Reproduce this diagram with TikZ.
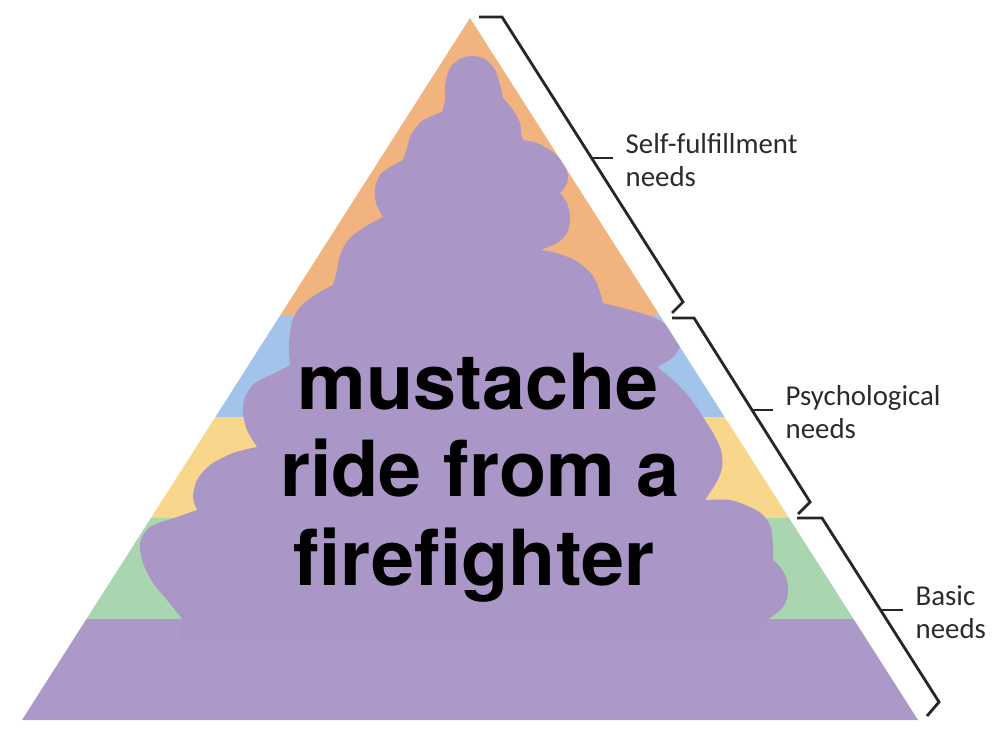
\documentclass[tikz,border=0pt]{standalone}
\usepackage{fontspec}
\newfontfamily\memefont{TeX Gyre Heros}
\newfontfamily\needsfont{Carlito}
\definecolor{orangeband}{HTML}{F2B47F}
\definecolor{blueband}{HTML}{A2C3EA}
\definecolor{yellowband}{HTML}{F8D68B}
\definecolor{greenband}{HTML}{A9D6B1}
\definecolor{purpleband}{HTML}{AC99CA}
\definecolor{cloudpurple}{HTML}{AA97C8}
\definecolor{inkgrey}{HTML}{2B2B2B}
\tikzset{
  brace/.style={draw=black!85, line width=0.8pt},
  needs/.style={anchor=west, align=left, inner sep=0pt, text=inkgrey, font=\needsfont\fontsize{8.2}{9.4}\selectfont},
  meme/.style={anchor=base, inner sep=0pt, text=black, font=\memefont\bfseries\fontsize{22}{25}\selectfont}
}
\begin{document}
\begin{tikzpicture}[x=0.01cm, y=-0.01cm]
    \useasboundingbox (0,0) rectangle (1000,752);
    % Pyramid bands
    \begin{scope}
        \clip (470,18) -- (22,720) -- (918,720) -- cycle;
        \foreach \col/\top/\bot in {orangeband/0/316, blueband/316/417, yellowband/417/518, greenband/518/619, purpleband/619/730}
            \fill[\col] (0,\top) rectangle (1000,\bot);
        % Cloud on top of the bands
        \fill[cloudpurple] (180,640)
            -- plot[smooth] coordinates {(183,620) (167,600) (153,583) (143,563) (140,543) (150,527) (177,517) (197,510)}
            -- plot[smooth] coordinates {(197,510) (193,497) (197,480) (210,465) (233,453) (257,447)}
            -- plot[smooth] coordinates {(257,447) (247,430) (243,413) (245,397) (255,383) (275,373) (290,365)}
            -- plot[smooth] coordinates {(290,365) (289,345) (292,322) (300,307) (315,295) (333,285)}
            -- plot[smooth] coordinates {(333,285) (337,270) (340,255) (348,240) (363,228) (383,217)}
            -- plot[smooth] coordinates {(383,217) (376,203) (375,188) (380,175) (390,167) (403,160)}
            -- plot[smooth] coordinates {(403,160) (407,148) (411,135) (422,121) (442,112)}
            -- plot[smooth] coordinates {(442,112) (445,100) (445,85) (450,68) (460,59) (472,56) (485,59) (495,70) (500,85) (503,98)}
            -- plot[smooth] coordinates {(503,98) (513,110) (520,123) (521,133) (523,140)}
            -- plot[smooth] coordinates {(523,140) (537,143) (553,152) (565,165) (568,178) (565,187) (560,193)}
            -- plot[smooth] coordinates {(560,193) (567,203) (570,218) (567,233) (557,243) (540,250)}
            -- plot[smooth] coordinates {(540,250) (557,253) (578,262) (593,276) (600,292) (603,303)}
            -- plot[smooth] coordinates {(603,303) (630,310) (655,318) (672,330) (680,345) (672,358) (657,367)}
            -- plot[smooth] coordinates {(657,367) (675,382) (690,398) (703,417) (713,433) (721,450) (722,468) (716,483) (705,500)}
            -- plot[smooth] coordinates {(705,500) (730,500) (750,507) (763,515) (771,528) (773,548) (773,560)}
            -- plot[smooth] coordinates {(773,560) (781,568) (787,580) (788,594) (783,607) (770,618) (760,625)}
            -- (760,640) -- cycle;
    \end{scope}
    % Meme text
    \node[meme] (line-1) at (478,410) {mustache};
    \node[meme] (line-2) at (480,497) {ride from a};
    \node[meme] (line-3) at (474,585) {firefighter};
    % Braces
    \draw[brace] (479,17) -- (502,17) -- (683,302) -- (672,313);
    \draw[brace] (672,318) -- (694,318) -- (810,502) -- (798,514);
    \draw[brace] (797,518) -- (822,518) -- (939,702) -- (927,716);
    % Labels
    \coordinate (tick-1) at (592,158);
    \coordinate (tick-2) at (752,410);
    \coordinate (tick-3) at (881,610);
    \node[needs] (label-1) at (625,160) {Self-fulfillment\\needs};
    \node[needs] (label-2) at (785,412) {Psychological\\needs};
    \node[needs] (label-3) at (915,612) {Basic\\needs};
    \foreach \i in {1,2,3} \draw[brace, shorten >=0.12cm] (tick-\i) -- (tick-\i -| label-\i.west);
\end{tikzpicture}
\end{document}
